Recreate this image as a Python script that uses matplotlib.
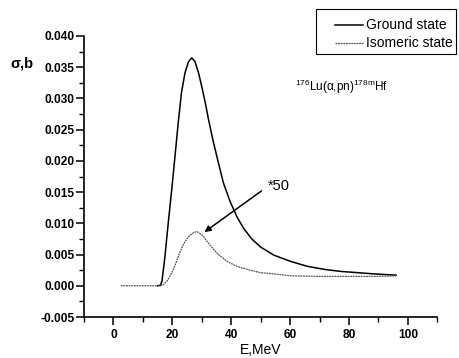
import matplotlib
matplotlib.use("Agg")
import matplotlib.pyplot as plt
from matplotlib.lines import Line2D
from matplotlib.patches import Rectangle
from matplotlib.ticker import MultipleLocator, FormatStrFormatter

plt.rcParams['font.family'] = ['Liberation Sans', 'DejaVu Sans']
plt.rcParams['mathtext.default'] = 'regular'

# Excitation function, ground state (barn)
e_ground = [15, 16, 16.5, 17.5, 18.6, 19.8, 20.9, 22.0, 23.1, 24.3, 25.5, 26.6,
            27.7, 28.9, 30.0, 31.2, 32.3, 34.0, 35.7, 37.4, 39.7, 42.0, 44.2,
            47.0, 50.0, 54.5, 60.2, 66.0, 72.0, 77.2, 83.0, 88.6, 96.0]
s_ground = [0.0, 0.0001, 0.0008, 0.0047, 0.0100, 0.0154, 0.0207, 0.0261,
            0.0309, 0.0341, 0.0359, 0.0365, 0.0359, 0.0341, 0.0319, 0.0293,
            0.0266, 0.0229, 0.0196, 0.0164, 0.0134, 0.0110, 0.0092, 0.0075,
            0.0062, 0.0049, 0.0039, 0.0031, 0.0026, 0.0023, 0.0021, 0.0019,
            0.0017]

# Excitation function, isomeric state (scaled by 50)
e_iso = [2.5, 10, 16, 17, 18.1, 19.2, 20.3, 21.2, 22.0, 23.7, 25.5, 27.2, 28.3,
         30.0, 32.3, 35.2, 38.6, 42.0, 46.5, 50.0, 54.5, 60.2, 70, 80, 90, 96]
s_iso = [0.0, 0.0, 0.0, 0.0002, 0.0007, 0.0015, 0.0026, 0.0036, 0.0047,
         0.0066, 0.0079, 0.0085, 0.0087, 0.0082, 0.0068, 0.0052, 0.0039,
         0.0031, 0.0025, 0.0021, 0.0019, 0.0016, 0.0015, 0.0015, 0.0015,
         0.0016]

x_ticks = [0, 20, 40, 60, 80, 100]
y_ticks = [-0.005, 0.000, 0.005, 0.010, 0.015, 0.020, 0.025, 0.030, 0.035, 0.040]

W, H = 459, 358
fig = plt.figure(figsize=(W / 100, H / 100), dpi=100)
ax = fig.add_axes([84 / W, 1 - 317 / H, (437.3 - 84) / W, (317 - 36) / H])

ground_style = dict(color='black', lw=1.1)
iso_style = dict(color='#555555', lw=0.9, ls=(0, (1.5, 0.6)))

ax.plot(e_ground, s_ground, solid_joinstyle='round', **ground_style)
ax.plot(e_iso, s_iso, **iso_style)

ax.set_xlim(-10, 110)
ax.set_ylim(-0.005, 0.040)
ax.set_xticks(x_ticks)
ax.set_yticks(y_ticks)
ax.xaxis.set_minor_locator(MultipleLocator(10))
ax.yaxis.set_minor_locator(MultipleLocator(0.0025))
ax.yaxis.set_major_formatter(FormatStrFormatter('%.3f'))

for s in ('top', 'right'):
    ax.spines[s].set_visible(False)
for s in ('left', 'bottom'):
    ax.spines[s].set_linewidth(1.2)

ax.tick_params(which='major', direction='out', length=6, width=1.1,
               labelsize=8.6)
ax.tick_params(axis='y', which='major', pad=1)
ax.tick_params(axis='x', which='major', pad=3)
ax.tick_params(which='minor', direction='out', length=3.5, width=1.0)
for lab in ax.get_xticklabels() + ax.get_yticklabels():
    lab.set_fontweight('bold')

ax.set_xlabel('E,MeV', fontsize=10)
ax.xaxis.set_label_coords(0.5, -(350 - 317) / (317 - 36))
ax.xaxis.label.set_va('center')
fig.text(10 / W, 1 - 64 / H, 'σ,b', fontsize=10.5, fontweight='bold',
         ha='left', va='center')

ax.annotate('', xy=(30.9, 0.0086), xytext=(50.3, 0.0152),
            arrowprops=dict(arrowstyle='-|>', color='black', lw=1.1,
                            mutation_scale=9, shrinkA=0, shrinkB=0))
ax.text(52.3, 0.0159, '*50', fontsize=10.5, ha='left', va='center')

ax.text(61.5, 0.0319, '$^{176}$Lu(α,pn)$^{178m}$Hf', fontsize=8.5,
        ha='left', va='center')

# Legend box above the plot area
fig.patches.append(Rectangle((316 / W, 1 - 54 / H), 140 / W, 45 / H,
                             transform=fig.transFigure, fill=False,
                             edgecolor='black', lw=0.8))
for y, label, style in ((25, 'Ground state', ground_style),
                        (42.7, 'Isomeric state', iso_style)):
    fig.lines.append(Line2D([335 / W, 363 / W], [1 - y / H, 1 - y / H],
                            transform=fig.transFigure, **style))
    fig.text(366 / W, 1 - y / H, label, fontsize=10, ha='left', va='center')

fig.savefig('out.png', dpi=100)
